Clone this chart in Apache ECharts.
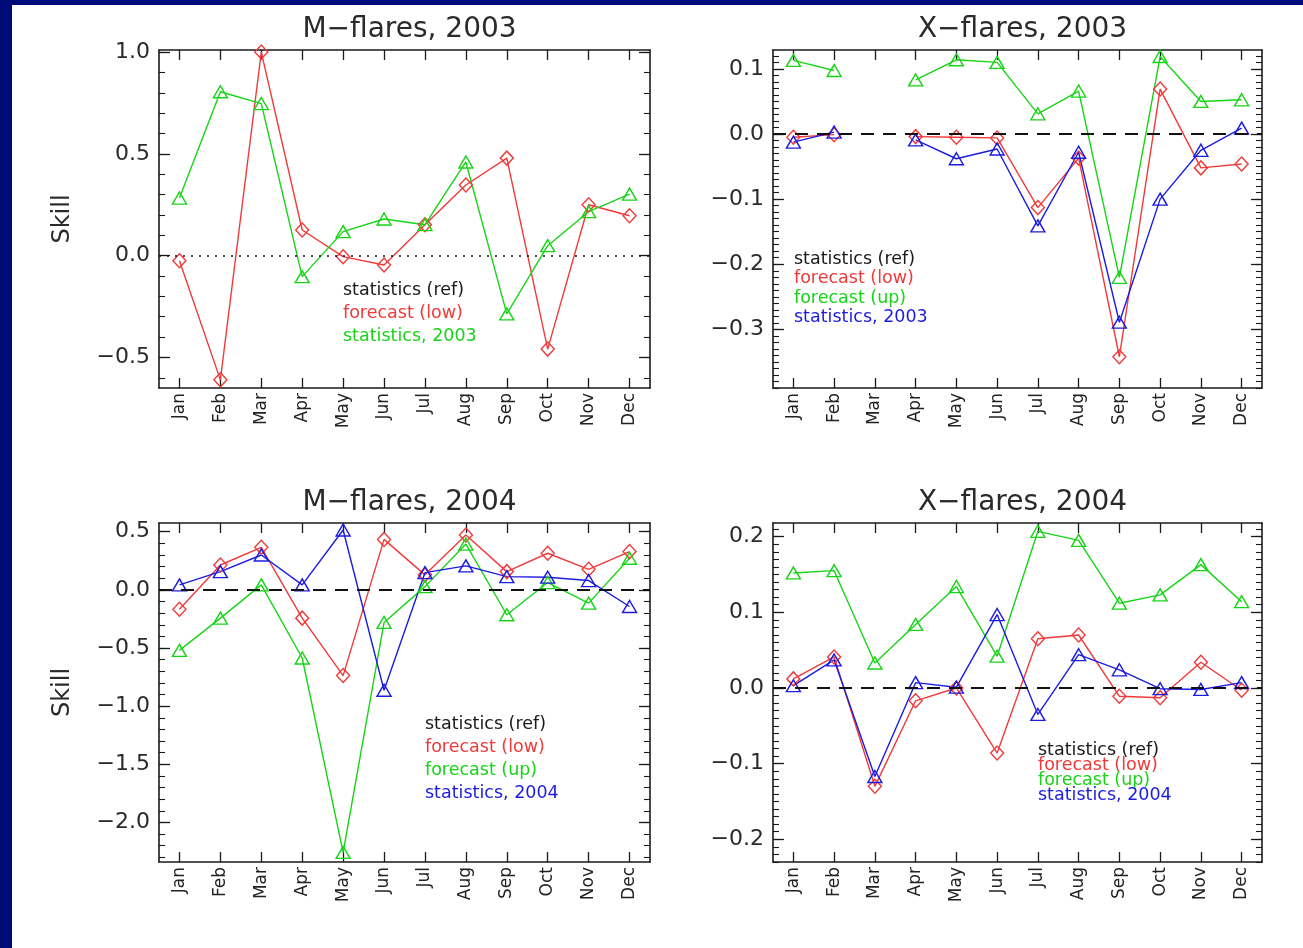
<!DOCTYPE html>
<html><head><meta charset="utf-8">
<script src="https://cdn.jsdelivr.net/npm/echarts@6/dist/echarts.min.js"></script>
<style>
html,body{margin:0;padding:0;width:1303px;height:948px;background:#000b7a;overflow:hidden}
#c{position:absolute;left:12px;top:5px;width:1291px;height:943px;background:#fff}
</style></head><body><div id="c"></div>
<script>
// ---- data ----
const months = ['Jan','Feb','Mar','Apr','May','Jun','Jul','Aug','Sep','Oct','Nov','Dec'];

// M-flares, 2003
const m03Low  = [-0.025,-0.61,1.0,0.126,-0.005,-0.046,0.152,0.347,0.479,-0.459,0.25,0.196];
const m03Stat = [0.283,0.805,0.747,-0.103,0.118,0.18,0.152,0.46,-0.286,0.049,0.216,0.302];
// X-flares, 2003
const x03Low  = [-0.005,-0.001,null,-0.004,-0.005,-0.006,-0.113,-0.037,-0.342,0.069,-0.052,-0.046];
const x03Up   = [0.113,0.0975,null,0.083,0.114,0.110,0.031,0.066,-0.22,0.119,0.050,0.0525];
const x03Stat = [-0.0125,0.003,null,-0.009,-0.038,-0.023,-0.141,-0.028,-0.289,-0.1,-0.025,0.009];
// M-flares, 2004
const m04Low  = [-0.166,0.214,0.366,-0.243,-0.737,0.434,0.129,0.472,0.157,0.315,0.177,0.329];
const m04Up   = [-0.52,-0.243,0.043,-0.586,-2.258,-0.28,0.028,0.394,-0.214,0.063,-0.114,0.272];
const m04Stat = [0.043,0.157,0.3,0.043,0.515,-0.863,0.148,0.206,0.114,0.109,0.08,-0.143];
// X-flares, 2004
const x04Low  = [0.012,0.041,-0.13,-0.017,0.0,-0.086,0.065,0.070,-0.011,-0.013,0.034,-0.003];
const x04Up   = [0.152,0.155,0.033,0.084,0.134,0.042,0.207,0.195,0.112,0.123,0.163,0.114];
const x04Stat = [0.003,0.037,-0.117,0.007,0.001,0.097,-0.035,0.044,0.024,-0.001,-0.002,0.007];

// tick labels
const m03Ticks = [-0.5,0.0,0.5,1.0];
const x03Ticks = [-0.3,-0.2,-0.1,0.0,0.1];
const m04Ticks = [-2.0,-1.5,-1.0,-0.5,0.0,0.5];
const x04Ticks = [-0.2,-0.1,0.0,0.1,0.2];

const titles = ['M\u2212flares, 2003','X\u2212flares, 2003','M\u2212flares, 2004','X\u2212flares, 2004'];
const yName = 'Skill';
const legendRef = 'statistics (ref)';
const legendLow = 'forecast (low)';
const legendUp = 'forecast (up)';
const legendStat03 = 'statistics, 2003';
const legendStat04 = 'statistics, 2004';

// ---- styling ----
const RED = '#f03a3a', GREEN = '#18d418', BLUE = '#1c1ce0', INK = '#1a1a1a';
const FONT = 'DejaVu Sans';
const OX = 12, OY = 5; // container offset inside the page

// panel boxes in page pixels: left, top, right, bottom
const boxes = [
  [159, 50, 650, 388],
  [773, 50, 1262, 388],
  [159, 523, 650, 862],
  [773, 523, 1262, 862]
];
const ranges = [[-0.65,1.01],[-0.39,0.129],[-2.34,0.575],[-0.23,0.218]];
const majors = [m03Ticks, x03Ticks, m04Ticks, x04Ticks];
const minorStep = [0.1, 0.01, 0.1, 0.01];

function minorValues(r, step){
  const out = [];
  const k0 = Math.ceil(r[0]/step - 1e-9), k1 = Math.floor(r[1]/step + 1e-9);
  for (let k = k0; k <= k1; k++) out.push(Math.round(k*step*1000)/1000);
  return out;
}
const fmt = v => (v < 0 ? '\u2212' : '') + Math.abs(v).toFixed(1);
const axisLine = {show:true, onZero:false, lineStyle:{color:INK, width:1.6}};

const grid = [], xAxis = [], yAxis = [], title = [];
boxes.forEach((b, i) => {
  grid.push({left:b[0]-OX, top:b[1]-OY, width:b[2]-b[0], height:b[3]-b[1], containLabel:false});
  title.push({text:titles[i], left:(b[0]+b[2])/2-OX, top:b[1]-OY-40, textAlign:'center',
    textStyle:{fontFamily:FONT, fontSize:28, fontWeight:'normal', color:'#2a2a2a', lineHeight:30}});
  const xb = {gridIndex:i, type:'category', data:months, boundaryGap:true,
    axisLine, axisTick:{show:true, inside:true, alignWithLabel:true, length:10, interval:0, lineStyle:{color:INK,width:1.3}},
    splitLine:{show:false}};
  xAxis.push(Object.assign({}, xb, {position:'bottom',
    axisLabel:{rotate:90, interval:0, fontFamily:FONT, fontSize:17, color:'#222', margin:5}}));
  xAxis.push(Object.assign({}, xb, {position:'top', axisLabel:{show:false}}));
  const r = ranges[i], mj = majors[i], mn = minorValues(r, minorStep[i]);
  const yb = {gridIndex:i, type:'value', min:r[0], max:r[1], splitLine:{show:false}};
  const showName = (i % 2 === 0);
  yAxis.push(Object.assign({}, yb, {position:'left', axisLine,
    axisTick:{show:true, inside:true, length:11, customValues:mj, lineStyle:{color:INK,width:1.3}},
    axisLabel:{customValues:mj, formatter:fmt, fontFamily:FONT, fontSize:22, color:'#2a2a2a', margin:9},
    name: showName ? yName : '', nameLocation:'middle', nameRotate:90, nameGap:84,
    nameTextStyle:{fontFamily:FONT, fontSize:24, color:'#2a2a2a'}}));
  yAxis.push(Object.assign({}, yb, {position:'left', axisLine:{show:false},
    axisTick:{show:true, inside:true, length:6, customValues:mn, lineStyle:{color:INK,width:1.1}},
    axisLabel:{show:false}}));
  yAxis.push(Object.assign({}, yb, {position:'right', axisLine,
    axisTick:{show:true, inside:true, length:11, customValues:mj, lineStyle:{color:INK,width:1.3}},
    axisLabel:{show:false}}));
  yAxis.push(Object.assign({}, yb, {position:'right', axisLine:{show:false},
    axisTick:{show:true, inside:true, length:6, customValues:mn, lineStyle:{color:INK,width:1.1}},
    axisLabel:{show:false}}));
});

function line(i, name, data, color, kind, zeroStyle){
  const s = {type:'line', name, data, xAxisIndex:2*i, yAxisIndex:4*i,
    symbol: kind === 'd' ? 'diamond' : 'triangle',
    symbolSize: kind === 'd' ? [13,14] : [14,12],
    showAllSymbol:true, connectNulls:false, silent:true,
    lineStyle:{color, width:1.4},
    itemStyle:{color:'rgba(255,255,255,0)', borderColor:color, borderWidth:1.4}};
  if (zeroStyle) {
    s.markLine = {silent:true, symbol:'none', label:{show:false},
      lineStyle:{color:'#111', width:zeroStyle === 'dot' ? 1.6 : 2, type: zeroStyle === 'dot' ? [2,6] : [13,9]},
      data:[{yAxis:0}]};
  }
  return s;
}

const series = [
  line(0, legendLow, m03Low, RED, 'd', 'dot'),
  line(0, legendStat03, m03Stat, GREEN, 't'),
  line(1, legendLow, x03Low, RED, 'd', 'dash'),
  line(1, legendUp, x03Up, GREEN, 't'),
  line(1, legendStat03, x03Stat, BLUE, 't'),
  line(2, legendLow, m04Low, RED, 'd', 'dash'),
  line(2, legendUp, m04Up, GREEN, 't'),
  line(2, legendStat04, m04Stat, BLUE, 't'),
  line(3, legendLow, x04Low, RED, 'd', 'dash'),
  line(3, legendUp, x04Up, GREEN, 't'),
  line(3, legendStat04, x04Stat, BLUE, 't')
];

// in-plot colored text legends (x, first line y, line step)
const legends = [
  {x:343, y:291, dy:23, items:[[legendRef,INK],[legendLow,RED],[legendStat03,GREEN]]},
  {x:794, y:260, dy:19.5, items:[[legendRef,INK],[legendLow,RED],[legendUp,GREEN],[legendStat03,BLUE]]},
  {x:425, y:725, dy:23, items:[[legendRef,INK],[legendLow,RED],[legendUp,GREEN],[legendStat04,BLUE]]},
  {x:1038, y:751, dy:15.2, items:[[legendRef,INK],[legendLow,RED],[legendUp,GREEN],[legendStat04,BLUE]]}
];
const graphic = [];
legends.forEach(L => L.items.forEach((it, k) => {
  graphic.push({type:'text', left:L.x-OX, top:L.y+k*L.dy-OY-10, silent:true,
    style:{text:it[0], fill:it[1], font:'17.5px "' + FONT + '"'}});
}));

const chart = echarts.init(document.getElementById('c'), null, {renderer:'canvas'});
chart.setOption({animation:false, backgroundColor:'#fff', title, grid, xAxis, yAxis, series, graphic});
</script></body></html>
